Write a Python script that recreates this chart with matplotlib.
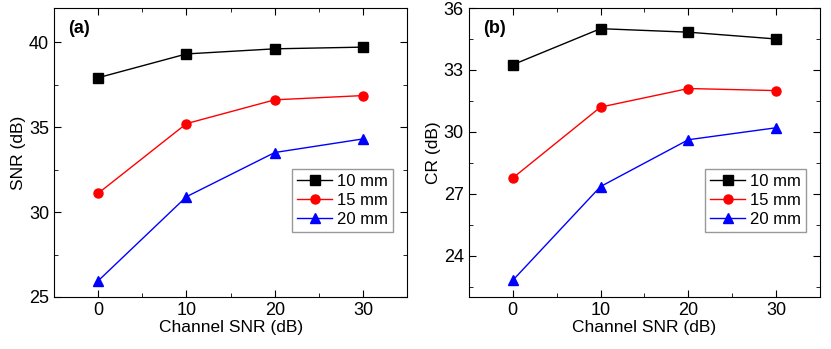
import matplotlib
matplotlib.use('Agg')
import matplotlib.pyplot as plt
from matplotlib.ticker import MultipleLocator

plt.rcParams['font.family'] = ['Liberation Sans', 'DejaVu Sans']

channel_snr = [0, 10, 20, 30]
labels = ['10 mm', '15 mm', '20 mm']

snr_10 = [37.9, 39.3, 39.6, 39.7]
snr_15 = [31.1, 35.2, 36.6, 36.85]
snr_20 = [25.95, 30.9, 33.5, 34.3]

cr_10 = [33.25, 35.0, 34.83, 34.5]
cr_15 = [27.76, 31.2, 32.1, 32.0]
cr_20 = [22.8, 27.35, 29.62, 30.2]

colors = ['black', 'red', 'blue']
markers = ['s', 'o', '^']

fig = plt.figure(figsize=(8.31, 3.49), dpi=100)
ax1 = fig.add_axes([0.065, 0.149, 0.425, 0.828])
ax2 = fig.add_axes([0.564, 0.149, 0.423, 0.828])


def draw(ax, series, ylim, major, minor, ylabel, tag):
    for vals, c, m, lab in zip(series, colors, markers, labels):
        ax.plot(channel_snr, vals, color=c, marker=m, markersize=6.5,
                linewidth=1, label=lab)
    ax.set_xlim(-5, 35)
    ax.set_ylim(*ylim)
    ax.xaxis.set_major_locator(MultipleLocator(10))
    ax.xaxis.set_minor_locator(MultipleLocator(5))
    ax.yaxis.set_major_locator(MultipleLocator(major))
    ax.yaxis.set_minor_locator(MultipleLocator(minor))
    ax.tick_params(which='both', direction='in', top=True, right=True,
                   labelsize=13)
    ax.tick_params(which='major', length=5)
    ax.tick_params(which='minor', length=3)
    ax.set_xlabel('Channel SNR (dB)', fontsize=12.5, labelpad=1)
    ax.set_ylabel(ylabel, fontsize=12.5, labelpad=2)
    ax.text(0.04, 0.93, tag, transform=ax.transAxes, fontsize=13,
            fontweight='bold', va='center')
    leg = ax.legend(loc='center right', bbox_to_anchor=(0.961, 0.335),
                    fontsize=12, fancybox=False, edgecolor='gray',
                    handlelength=2.1, borderpad=0.3, labelspacing=0.25,
                    handletextpad=0.3, borderaxespad=0)
    leg.get_frame().set_linewidth(1)


draw(ax1, [snr_10, snr_15, snr_20], (25, 42), 5, 2.5, 'SNR (dB)', '(a)')
draw(ax2, [cr_10, cr_15, cr_20], (22, 36), 3, 1.5, 'CR (dB)', '(b)')

fig.savefig('out.png', dpi=100)
